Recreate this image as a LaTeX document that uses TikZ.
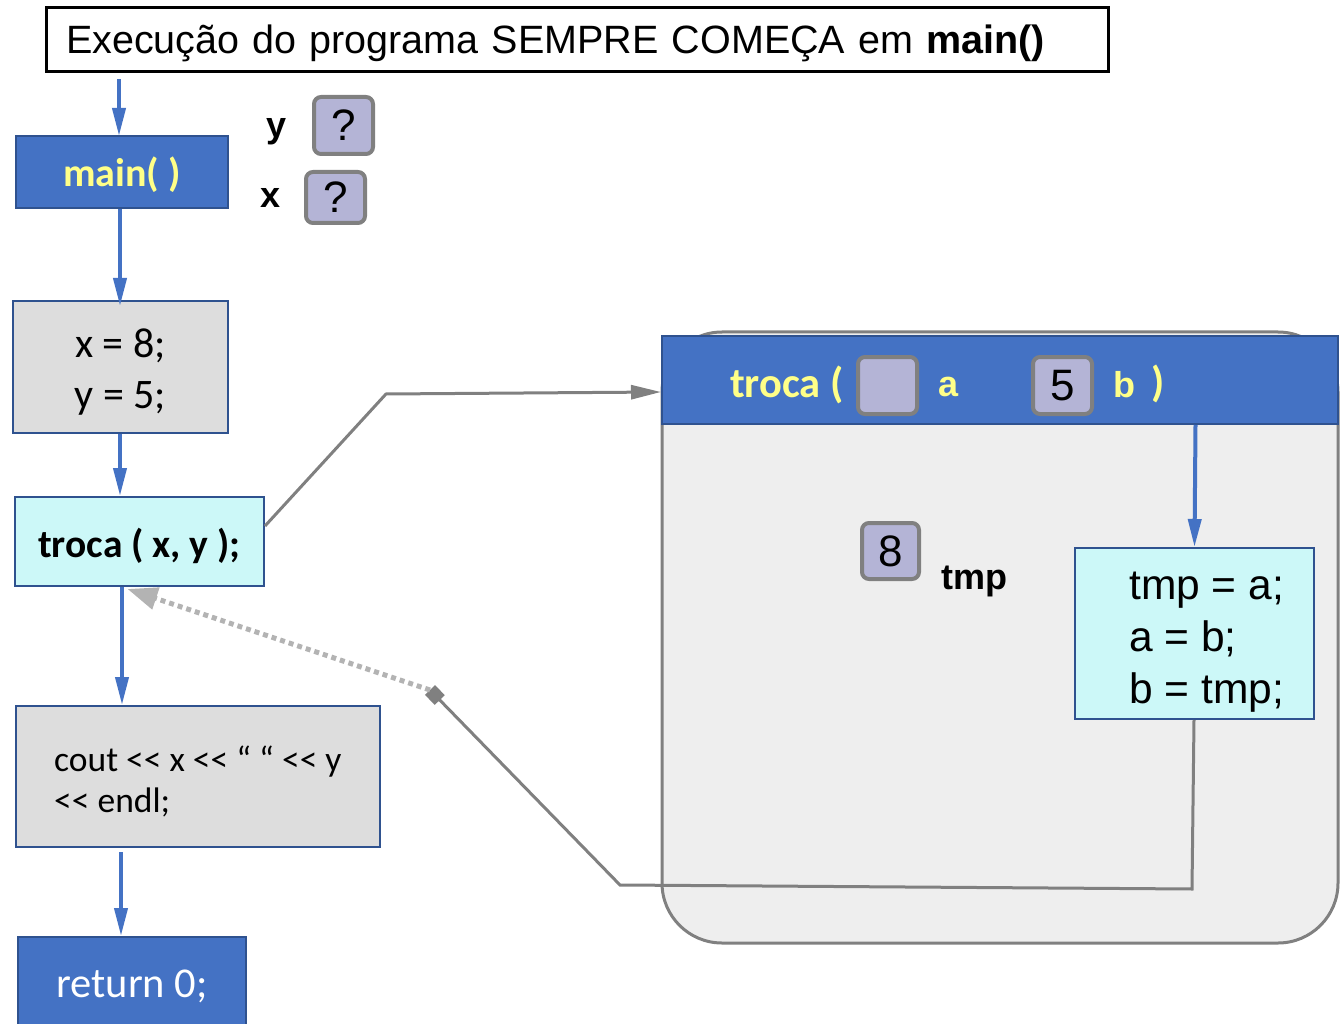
\documentclass[tikz,border=0pt]{standalone}
\usepackage{fontspec}
\setmainfont{Liberation Sans}
\newfontfamily\calfont{Carlito}
\usetikzlibrary{arrows.meta}
\definecolor{azul}{HTML}{4472C4}
\definecolor{azulesc}{HTML}{2F528F}
\definecolor{amarelo}{HTML}{FFFF88}
\definecolor{cinzaclaro}{HTML}{DDDDDD}
\definecolor{ciano}{HTML}{CCF8F8}
\definecolor{lilas}{HTML}{B4B4D6}
\definecolor{cinzaesc}{HTML}{808080}
\definecolor{fundo}{HTML}{EEEEEE}
\tikzset{
  bloco/.style={draw=azulesc, line width=2pt, inner sep=0pt},
  seta/.style={draw=azul, line width=4pt, -{Triangle[length=28pt,width=13pt]}},
  caixa/.style={draw=cinzaesc, line width=4pt, fill=lilas, rounded corners=7pt,
    inner sep=0pt, font=\fontsize{44}{50}\selectfont},
  rotulo/.style={font=\fontsize{36}{40}\selectfont\bfseries},
  ligacao/.style={draw=cinzaesc, line width=3pt},
}
\begin{document}
\begin{tikzpicture}[x=1pt, y=-1pt]
    \useasboundingbox (0,0) rectangle (1344,1024);

    % Título
    \node[draw, line width=3pt, minimum width=1062pt, minimum height=64pt,
          inner xsep=20pt, text width=1022pt, align=left, text height=31pt, text depth=4pt,
          font=\fontsize{39.5}{44}\selectfont] (titulo) at (577,40)
          {Execução do programa SEMPRE COMEÇA em \textbf{main()}};

    % Fluxo de main
    \node[bloco, fill=azul, minimum width=212pt, minimum height=72pt, text height=36pt, text depth=6pt,
          text=amarelo, font=\calfont\fontsize{40}{44}\selectfont\bfseries] (main) at (122,172) {main( )};
    \node[bloco, fill=cinzaclaro, minimum width=215pt, minimum height=132pt] (atrib) at (120.5,367) {};
    \node[align=center, inner sep=0pt, font=\calfont\fontsize{42}{51}\selectfont]
          (atribtxt) at ([yshift=-5pt]atrib.center) {x = 8;\\y = 5;};
    \node[bloco, fill=ciano, minimum width=249pt, minimum height=89pt, text height=36pt, text depth=5pt,
          font=\calfont\fontsize{39.5}{44}\selectfont\bfseries] (chamada) at (139.5,541.5) {troca ( x, y );\hspace{12pt}};
    \node[bloco, fill=cinzaclaro, minimum width=364pt, minimum height=141pt] (cout) at (198,776.5) {};
    \node[anchor=west, align=left, inner sep=0pt,
          font=\calfont\fontsize{35.5}{41}\selectfont] (couttxt) at ([xshift=39pt,yshift=-5pt]cout.west)
          {cout << x << “ “ << y\\<< endl;};
    \node[bloco, fill=azul, minimum width=228pt, minimum height=88pt, text height=39pt, text depth=6pt,
          text=white, font=\calfont\fontsize{42.5}{46}\selectfont] (ret) at (132,981) {return 0;};

    \draw[seta] ([yshift=-6pt]titulo.south -| 119,0) -- (119,136);
    \draw[seta] (main.south -| 120,0) -- ([yshift=-6pt]atrib.north -| 120,0);
    \draw[seta] (atrib.south -| 120,0) -- (chamada.north -| 120,0);
    \draw[seta] (chamada.south -| 122,0) -- (cout.north -| 122,0);
    \draw[seta] ([yshift=-4pt]cout.south -| 121,0) -- (ret.north -| 121,0);

    % Variáveis de main
    \node[rotulo] (ynome) at (277,132) {y};
    \node[caixa, minimum width=59pt, minimum height=57pt] (yval) at (343.5,125.5) {?};
    \node[rotulo] (xnome) at (271,198) {x};
    \node[caixa, minimum width=59pt, minimum height=51pt] (xval) at (335.5,197.5) {?};

    % Quadro da função troca
    \node[draw=cinzaesc, line width=3pt, fill=fundo, rounded corners=60pt,
          minimum width=676pt, minimum height=611pt] (quadro) at (1000,637.5) {};
    \node[bloco, fill=azul, minimum width=676pt, minimum height=88pt] (cabecalho) at (1000,380) {};
    \node[text=amarelo, font=\calfont\fontsize{42.5}{46}\selectfont\bfseries] (trocanome) at (787,385) {troca (};
    \node[caixa, minimum width=59pt, minimum height=57pt] (aval) at (887.5,385.5) {};
    \node[text=amarelo, rotulo] (anome) at (948,387) {a};
    \node[caixa, minimum width=59pt, minimum height=57pt] (bval) at (1062.5,385.5) {5};
    \node[text=amarelo, rotulo] (bnome) at (1124,385) {b};
    \node[text=amarelo, font=\calfont\fontsize{42.5}{46}\selectfont\bfseries] (fecha) at (1158,384) {)};

    \node[caixa, minimum width=57pt, minimum height=56pt] (tmpval) at (890.5,551) {8};
    \node[rotulo] (tmpnome) at (974,581) {tmp};

    \node[bloco, fill=ciano, minimum width=239pt, minimum height=171pt] (corpo) at (1194.5,633.5) {};
    \node[anchor=west, align=left, inner sep=0pt,
          font=\fontsize{42.5}{52}\selectfont] (corpotxt) at ([xshift=55pt,yshift=-9pt]corpo.west)
          {tmp = a;\\a = b;\\b = tmp;};
    \draw[seta] ([xshift=1pt]corpo.north |- cabecalho.south) -- (corpo.north);

    % Chamada e retorno
    \coordinate (dobra) at (386,394);
    \draw[ligacao, -{Triangle[length=30pt,width=14pt]}] ([yshift=-30pt]chamada.north east) -- (dobra) -- ([yshift=-12pt]cabecalho.west);
    \coordinate (cantoA) at (1192,889);
    \coordinate (cantoB) at (620,885);
    \coordinate (losango) at (430,690);
    \draw[ligacao, -{Square[length=14pt,width=14pt]}] (corpo.south -| 1194,0) -- (cantoA) -- (cantoB) -- (losango);
    \draw[draw=cinzaesc!60, line width=5pt, dash pattern=on 5pt off 4pt,
          -{Triangle[length=30pt,width=22pt,fill=cinzaesc!60]}] (losango) -- ([xshift=-12pt,yshift=-2pt]chamada.south);
\end{tikzpicture}
\end{document}
